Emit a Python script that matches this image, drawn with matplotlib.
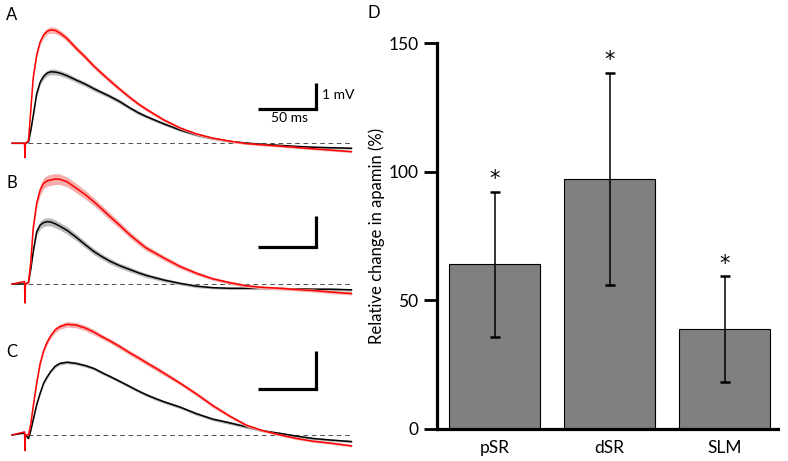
import matplotlib
matplotlib.use('Agg')
import matplotlib.pyplot as plt
import numpy as np

plt.rcParams['font.family'] = ['Lato', 'DejaVu Sans']

# ---------------- data ----------------
# time axis of the averaged EPSP traces (ms, stimulus at 0)
t_ms = [-11, -0.4, 0, 0.4, 3, 5, 7, 10, 13, 16, 19, 22, 26, 30, 36, 44, 52, 59, 66,
        73, 81, 90, 97, 104, 112, 119, 133, 147, 161, 176, 190, 204, 219, 233, 247, 262, 280]

# Panel A (mV)
a_apamin = [0, 0, -0.55, 0, 0.1, 1.3, 2.5, 3.4, 3.9, 4.17, 4.31, 4.36, 4.34, 4.24, 4.03, 3.65, 3.30, 2.97, 2.68,
            2.40, 2.09, 1.76, 1.52, 1.31, 1.09, 0.90, 0.59, 0.36, 0.20, 0.08, -0.01, -0.06, -0.11, -0.16, -0.21, -0.26, -0.32]
a_apamin_sem = [0, 0, 0, 0, 0.02, 0.05, 0.08, 0.10, 0.11, 0.12, 0.12, 0.12, 0.12, 0.11, 0.11, 0.10, 0.10, 0.09, 0.09,
                0.09, 0.08, 0.08, 0.07, 0.07, 0.06, 0.06, 0.05, 0.05, 0.04, 0.04, 0.04, 0.04, 0.04, 0.04, 0.04, 0.04, 0.04]
a_control = [0, 0, 0, 0, 0.05, 0.5, 1.05, 1.9, 2.35, 2.58, 2.70, 2.75, 2.74, 2.70, 2.60, 2.43, 2.27, 2.10, 1.95,
             1.80, 1.61, 1.36, 1.18, 1.03, 0.88, 0.75, 0.51, 0.32, 0.18, 0.07, 0.01, -0.04, -0.08, -0.12, -0.15, -0.17, -0.19]
a_control_sem = [0, 0, 0, 0, 0.02, 0.05, 0.08, 0.10, 0.11, 0.11, 0.11, 0.11, 0.11, 0.10, 0.10, 0.09, 0.09, 0.09, 0.08,
                 0.08, 0.08, 0.07, 0.07, 0.06, 0.06, 0.06, 0.05, 0.05, 0.04, 0.04, 0.04, 0.04, 0.04, 0.04, 0.04, 0.04, 0.04]

# Panel B (mV)
b_apamin = [0, 0.08, -0.62, 0, 0.05, 0.73, 1.81, 2.63, 3.06, 3.28, 3.36, 3.39, 3.42, 3.41, 3.33, 3.12, 2.90, 2.68, 2.44,
            2.19, 1.92, 1.60, 1.38, 1.17, 1.00, 0.85, 0.57, 0.35, 0.17, 0.04, -0.06, -0.11, -0.14, -0.18, -0.21, -0.26, -0.31]
b_apamin_sem = [0, 0, 0, 0, 0.03, 0.08, 0.12, 0.15, 0.17, 0.18, 0.18, 0.18, 0.18, 0.17, 0.16, 0.15, 0.14, 0.13, 0.12,
                0.12, 0.11, 0.10, 0.10, 0.09, 0.08, 0.08, 0.07, 0.06, 0.05, 0.05, 0.05, 0.05, 0.05, 0.05, 0.05, 0.05, 0.05]
b_control = [0, 0, 0, 0, 0.05, 0.5, 1.05, 1.70, 1.92, 2.00, 2.03, 2.02, 1.96, 1.88, 1.75, 1.52, 1.27, 1.06, 0.89,
             0.74, 0.60, 0.47, 0.37, 0.28, 0.20, 0.13, 0.02, -0.07, -0.12, -0.14, -0.14, -0.14, -0.15, -0.16, -0.17, -0.17, -0.19]
b_control_sem = [0, 0, 0, 0, 0.02, 0.06, 0.10, 0.12, 0.13, 0.13, 0.13, 0.13, 0.13, 0.12, 0.12, 0.11, 0.10, 0.10, 0.09,
                 0.09, 0.08, 0.08, 0.07, 0.07, 0.06, 0.06, 0.05, 0.05, 0.04, 0.04, 0.04, 0.04, 0.04, 0.04, 0.04, 0.04, 0.04]

# Panel C (mV)
c_apamin = [0, 0.08, -0.40, 0, 0.0, 0.3, 0.73, 1.34, 1.85, 2.18, 2.40, 2.56, 2.72, 2.80, 2.86, 2.84, 2.76, 2.66, 2.54,
            2.43, 2.29, 2.12, 2.00, 1.87, 1.73, 1.60, 1.34, 1.06, 0.76, 0.48, 0.25, 0.11, 0.0, -0.09, -0.16, -0.21, -0.28]
c_apamin_sem = [0, 0, 0, 0, 0.01, 0.03, 0.05, 0.06, 0.07, 0.07, 0.07, 0.07, 0.07, 0.07, 0.07, 0.07, 0.07, 0.07, 0.06,
                0.06, 0.06, 0.06, 0.06, 0.06, 0.06, 0.06, 0.05, 0.05, 0.05, 0.04, 0.04, 0.03, 0.03, 0.03, 0.03, 0.03, 0.03]
c_control = [0, 0.05, -0.1, 0, -0.09, 0.12, 0.39, 0.78, 1.08, 1.34, 1.50, 1.64, 1.78, 1.85, 1.88, 1.85, 1.79, 1.72, 1.61,
             1.51, 1.39, 1.25, 1.14, 1.04, 0.94, 0.86, 0.72, 0.55, 0.41, 0.31, 0.21, 0.11, 0.04, -0.03, -0.09, -0.13, -0.17]
c_control_sem = [0, 0, 0, 0, 0.01, 0.02, 0.03, 0.04, 0.04, 0.04, 0.04, 0.04, 0.04, 0.04, 0.04, 0.04, 0.04, 0.04, 0.04,
                 0.04, 0.04, 0.04, 0.04, 0.04, 0.04, 0.04, 0.04, 0.04, 0.04, 0.04, 0.04, 0.03, 0.03, 0.03, 0.03, 0.03, 0.03]

scale_ms = 50
scale_mv = 1

# Panel D
categories = ['pSR', 'dSR', 'SLM']
rel_change = [64.0, 97.3, 38.8]
rel_change_err = [28.2, 41.3, 20.5]
significance = ['*', '*', '*']
y_ticks = [0, 50, 100, 150]
y_label = 'Relative change in apamin (%)'

# ---------------- figure ----------------
W, H = 788, 461
fig = plt.figure(figsize=(W / 100, H / 100), dpi=100)


def px_axes(x0, y0, x1, y1):
    return fig.add_axes([x0 / W, 1 - y1 / H, (x1 - x0) / W, (y1 - y0) / H])


# pixel geometry of the trace panels: (top, bottom, baseline, px per mV, scale-bar level)
px_per_ms = 1.166
x_left_px, x_right_px, stim_px = 8, 358, 25
panels = [
    ('A', (15, 162, 143.3, 26.0, 1.32), a_control, a_control_sem, a_apamin, a_apamin_sem, 20),
    ('B', (165, 306, 284.0, 30.7, 1.21), b_control, b_control_sem, b_apamin, b_apamin_sem, 188),
    ('C', (308, 458, 435.0, 38.7, 1.18), c_control, c_control_sem, c_apamin, c_apamin_sem, 357),
]

t = np.array(t_ms)
for i, (lab, (top, bot, base, ppm, sb), ctl, ctl_sem, apa, apa_sem, lab_y) in enumerate(panels):
    ax = px_axes(x_left_px, top, x_right_px, bot)
    ax.set_xlim((x_left_px - stim_px) / px_per_ms, (x_right_px - stim_px) / px_per_ms)
    ax.set_ylim((base - bot) / ppm, (base - top) / ppm)
    ax.axis('off')
    ctl = np.array(ctl); ctl_sem = np.array(ctl_sem)
    apa = np.array(apa); apa_sem = np.array(apa_sem)
    ax.hlines(0, t[4], t[-1], colors='#555555', linestyles=(0, (4.5, 3.5)), linewidth=0.75, zorder=1)
    ax.fill_between(t, ctl - ctl_sem, ctl + ctl_sem, color='#b8b8b8', linewidth=0, zorder=2)
    ax.plot(t, ctl, color='black', linewidth=1.1, zorder=3)
    ax.fill_between(t, apa - apa_sem, apa + apa_sem, color='#f7adad', linewidth=0, zorder=4)
    ax.plot(t, apa, color='#ff0000', linewidth=1.1, zorder=5)
    # scale bar
    sx1 = 250
    sx0 = sx1 - scale_ms
    ax.plot([sx0, sx1, sx1], [sb, sb, sb + scale_mv], color='black', linewidth=2.3,
            solid_capstyle='butt', solid_joinstyle='miter', zorder=6)
    if lab == 'A':
        ax.text(sx1 + 5, sb + scale_mv / 2 + 0.05, '%d mV' % scale_mv, fontsize=10, ha='left', va='center')
        ax.text(sx0 + scale_ms / 2 + 2, sb - 0.12, '%d ms' % scale_ms, fontsize=10, ha='center', va='top')
    fig.text(11.5 / W, 1 - lab_y / H, lab, fontsize=12, ha='center', va='baseline')

# ---------------- bar chart ----------------
axd = px_axes(437, 43.5, 778, 428.5)
x = np.arange(len(categories))
axd.bar(x, rel_change, width=0.79, color='#808080', edgecolor='black', linewidth=0.8, zorder=2)
axd.errorbar(x, rel_change, yerr=rel_change_err, fmt='none', ecolor='black',
             elinewidth=1.1, capsize=3.3, capthick=1.8, zorder=3)
for xi, m, e, s in zip(x, rel_change, rel_change_err, significance):
    axd.annotate(s, xy=(xi, m + e), xytext=(0, 4.8), textcoords='offset points',
                 ha='center', va='baseline', fontsize=15, family='DejaVu Sans')
axd.set_xlim(-0.5, 2.465)
axd.set_ylim(0, 150)
axd.set_yticks(y_ticks)
axd.set_xticks(x)
axd.set_xticklabels(categories)
for side in ('top', 'right'):
    axd.spines[side].set_visible(False)
for side in ('left', 'bottom'):
    axd.spines[side].set_linewidth(2.3)
axd.spines['left'].set_capstyle('projecting')
axd.tick_params(axis='y', direction='out', length=9.5, width=2.0, pad=4.0, labelsize=12.5)
axd.tick_params(axis='x', length=0, pad=8, labelsize=12.5)
axd.set_ylabel(y_label, fontsize=12)
axd.yaxis.set_label_coords(-0.152, 0.5)
fig.text(374 / W, 1 - 18 / H, 'D', fontsize=12, ha='center', va='baseline')

fig.savefig('out.png', dpi=100)
